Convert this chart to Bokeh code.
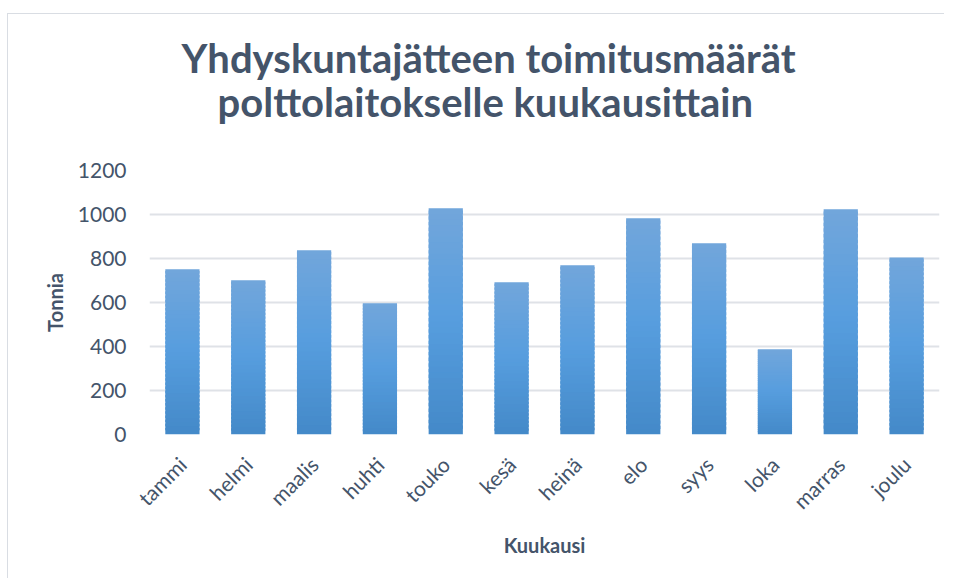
import numpy as np
from bokeh.plotting import figure
from bokeh.models import ColumnDataSource, Title, FixedTicker
from bokeh.embed import file_html
from bokeh.resources import INLINE

# ---- data ----
months = ["tammi", "helmi", "maalis", "huhti", "touko", "kesä",
          "heinä", "elo", "syys", "loka", "marras", "joulu"]
tonnes = [751, 701, 838, 597, 1028, 692, 769, 983, 869, 387, 1024, 805]
y_ticks = [0, 200, 400, 600, 800, 1000, 1200]
title_lines = ["Yhdyskuntajätteen toimitusmäärät", "polttolaitokselle kuukausittain"]
x_label = "Kuukausi"
y_label = "Tonnia"

TEXT = "#44546a"
GRID = "#dfe2e7"
FONT = "Lato"

W, H = 937, 565
p = figure(x_range=months, y_range=(0, 1200), width=W, height=H, title=None,
           output_backend="svg", toolbar_location=None,
           min_border_left=141, min_border_right=6,
           min_border_top=156, min_border_bottom=145)
p.outline_line_color = None
p.background_fill_color = "white"
p.border_fill_color = "white"
p.styles = {"border-left": "1px solid #d9dde3", "border-top": "1px solid #d9dde3",
            "margin-left": "7px", "margin-top": "13px"}

# gradient bars built from slices of each bar's own height
top_c = np.array([0x72, 0xa6, 0xdb])
mid_c = np.array([0x56, 0x9d, 0xde])
bot_c = np.array([0x44, 0x89, 0xc8])
N = 40
xs, bots, tops, cols = [], [], [], []
for k in range(N):
    t = (k + 0.5) / N
    if t < 0.5:
        c = bot_c + (mid_c - bot_c) * (t / 0.5)
    else:
        c = mid_c + (top_c - mid_c) * ((t - 0.5) / 0.5)
    col = "#%02x%02x%02x" % tuple(int(round(v)) for v in c)
    for m, v in zip(months, tonnes):
        xs.append(m)
        bots.append(v * k / N)
        tops.append(min(v, v * (k + 1.6) / N))
        cols.append(col)
src = ColumnDataSource(dict(x=xs, bottom=bots, top=tops, color=cols))
p.vbar(x="x", bottom="bottom", top="top", width=0.52, source=src,
       fill_color="color", line_color=None)

# axes
p.yaxis.ticker = FixedTicker(ticks=y_ticks)
for ax in (p.xaxis[0], p.yaxis[0]):
    ax.axis_line_color = None
    ax.major_tick_line_color = None
    ax.minor_tick_line_color = None
    ax.major_label_text_font = FONT
    ax.major_label_text_font_size = "21px"
    ax.major_label_text_color = TEXT
    ax.axis_label_text_font = FONT
    ax.axis_label_text_font_style = "bold"
    ax.axis_label_text_font_size = "20px"
    ax.axis_label_text_color = TEXT
p.yaxis.axis_label = y_label
p.yaxis.major_label_standoff = 17
p.yaxis.axis_label_standoff = 8
p.xaxis.axis_label = x_label
p.xaxis.major_label_orientation = np.pi / 4
p.xaxis.major_label_standoff = 20
p.xaxis.axis_label_standoff = 8

p.xgrid.grid_line_color = None
p.ygrid.grid_line_color = GRID
p.ygrid.grid_line_width = 2

# two title lines, inner line added first
for line, off, sb in [(title_lines[1], 68, 90), (title_lines[0], 32, -102)]:
    p.add_layout(Title(text=line, align="left", offset=off, standoff=sb,
                       text_font=FONT, text_font_style="bold",
                       text_font_size="40px", text_color=TEXT), "above")

open("out.html", "w").write(file_html(p, INLINE))
